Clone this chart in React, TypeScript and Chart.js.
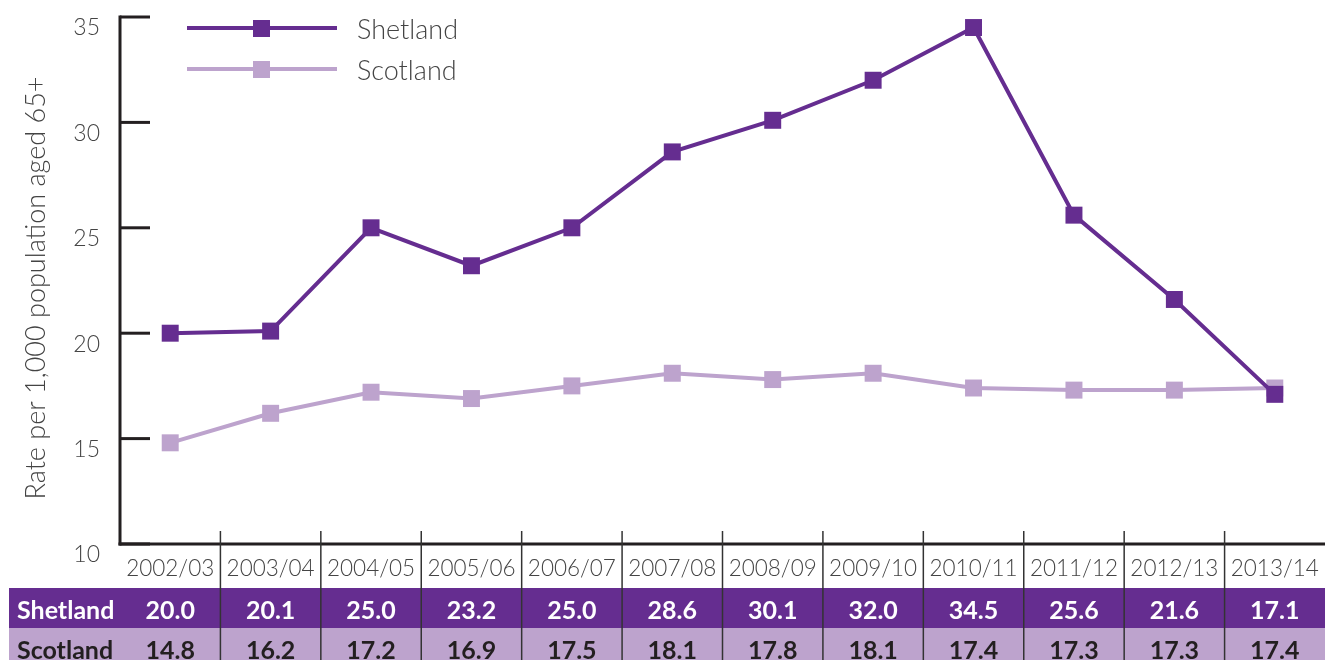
import React, { useEffect, useRef } from 'react';
import { Chart, registerables } from 'chart.js';

Chart.register(...registerables);

const categories = ['2002/03', '2003/04', '2004/05', '2005/06', '2006/07', '2007/08', '2008/09', '2009/10', '2010/11', '2011/12', '2012/13', '2013/14'];
const shetlandValues = [20.0, 20.1, 25.0, 23.2, 25.0, 28.6, 30.1, 32.0, 34.5, 25.6, 21.6, 17.1];
const scotlandValues = [14.8, 16.2, 17.2, 16.9, 17.5, 18.1, 17.8, 18.1, 17.4, 17.3, 17.3, 17.4];
const seriesNames = ['Shetland', 'Scotland'];
const yTickValues = [10, 15, 20, 25, 30, 35];
const yTitle = 'Rate per 1,000 population aged 65+';

const DARK = '#652D90';
const LIGHT = '#BDA3CD';
const AXIS = '#231f20';
const TEXT = '#444444';
const FONT = 'Lato, "Open Sans", sans-serif';

const customPlugin = {
  id: 'custom',
  beforeDatasetsDraw(chart: any) {
    const ctx = chart.ctx;
    const y = chart.scales.y;
    const area = chart.chartArea;
    ctx.save();
    ctx.strokeStyle = AXIS;
    ctx.lineWidth = 3;
    ctx.lineCap = 'butt';
    ctx.beginPath();
    ctx.moveTo(area.left, y.getPixelForValue(35) - 1.5);
    ctx.lineTo(area.left, area.bottom + 1.5);
    ctx.stroke();
    ctx.beginPath();
    ctx.moveTo(area.left - 1.5, area.bottom);
    ctx.lineTo(area.right, area.bottom);
    ctx.stroke();
    for (const v of yTickValues) {
      const py = y.getPixelForValue(v);
      ctx.beginPath();
      ctx.moveTo(area.left, py);
      ctx.lineTo(area.left + 30, py);
      ctx.stroke();
    }
    ctx.restore();
  },
  afterDraw(chart: any) {
    const ctx = chart.ctx;
    const x = chart.scales.x;
    const area = chart.chartArea;
    const H = chart.height;
    ctx.save();
    const rows = [
      { name: seriesNames[0], values: shetlandValues, bg: DARK, fg: '#ffffff', top: 588 },
      { name: seriesNames[1], values: scotlandValues, bg: LIGHT, fg: AXIS, top: 628 },
    ];
    for (const r of rows) {
      ctx.fillStyle = r.bg;
      ctx.fillRect(9, r.top, chart.width - 9, 40);
      ctx.fillStyle = r.fg;
      ctx.font = `bold 25px ${FONT}`;
      ctx.textBaseline = 'middle';
      ctx.textAlign = 'left';
      ctx.fillText(r.name, 17, r.top + 23);
      ctx.textAlign = 'center';
      r.values.forEach((v, i) => {
        ctx.fillText(v.toFixed(1), x.getPixelForValue(i), r.top + 23);
      });
    }
    ctx.strokeStyle = '#333333';
    ctx.lineWidth = 1.5;
    for (let i = 0; i < categories.length - 1; i++) {
      const px = (x.getPixelForValue(i) + x.getPixelForValue(i + 1)) / 2;
      ctx.beginPath();
      ctx.moveTo(px, area.bottom - 13);
      ctx.lineTo(px, H);
      ctx.stroke();
    }
    ctx.save();
    ctx.translate(36, 288);
    ctx.rotate(-Math.PI / 2);
    ctx.fillStyle = TEXT;
    ctx.font = `300 27px ${FONT}`;
    ctx.textAlign = 'center';
    ctx.textBaseline = 'middle';
    ctx.fillText(yTitle, 0, 0);
    ctx.restore();
    const legend = [
      { name: seriesNames[0], color: DARK, y: 28 },
      { name: seriesNames[1], color: LIGHT, y: 69 },
    ];
    for (const l of legend) {
      ctx.strokeStyle = l.color;
      ctx.lineWidth = 4;
      ctx.beginPath();
      ctx.moveTo(187, l.y);
      ctx.lineTo(337, l.y);
      ctx.stroke();
      ctx.fillStyle = l.color;
      ctx.fillRect(253, l.y - 8, 17, 17);
      ctx.fillStyle = TEXT;
      ctx.font = `300 27px ${FONT}`;
      ctx.textAlign = 'left';
      ctx.textBaseline = 'middle';
      ctx.fillText(l.name, 357, l.y + 2);
    }
    ctx.restore();
  },
};

export default function App() {
  const ref = useRef<HTMLCanvasElement>(null);
  useEffect(() => {
    if (!ref.current) return;
    const chart = new Chart(ref.current, {
      type: 'line',
      data: {
        labels: categories,
        datasets: [
          {
            label: seriesNames[0],
            data: shetlandValues,
            borderColor: DARK,
            backgroundColor: DARK,
            borderWidth: 4,
            pointStyle: 'rect',
            pointRadius: 12,
            pointBorderWidth: 0,
            tension: 0,
          },
          {
            label: seriesNames[1],
            data: scotlandValues,
            borderColor: LIGHT,
            backgroundColor: LIGHT,
            borderWidth: 4,
            pointStyle: 'rect',
            pointRadius: 12,
            pointBorderWidth: 0,
            tension: 0,
          },
        ],
      },
      options: {
        animation: false,
        responsive: false,
        layout: { autoPadding: false, padding: { top: 17, left: 0, right: 0, bottom: 0 } },
        plugins: { legend: { display: false }, tooltip: { enabled: false } },
        scales: {
          x: {
            type: 'category',
            offset: true,
            grid: { display: false, drawTicks: false },
            border: { display: false },
            ticks: {
              color: TEXT,
              font: { family: FONT, size: 22.5, weight: '300' },
              padding: 11,
              maxRotation: 0,
              autoSkip: false,
            },
            afterFit(scale: any) {
              scale.height = 116;
              scale.paddingLeft = 0;
              scale.paddingRight = 0;
            },
          },
          y: {
            min: 10,
            max: 35,
            grid: { display: false, drawTicks: false },
            border: { display: false },
            afterBuildTicks(scale: any) {
              scale.ticks = yTickValues.map((v) => ({ value: v }));
            },
            ticks: {
              color: TEXT,
              font: { family: FONT, size: 23, weight: '300' },
              padding: 20,
              labelOffset: 11,
            },
            afterFit(scale: any) {
              scale.width = 120;
              scale.paddingTop = 0;
              scale.paddingBottom = 0;
            },
          },
        },
      },
      plugins: [customPlugin],
    });
    return () => chart.destroy();
  }, []);
  return (
    <div style={{ position: 'absolute', left: 0, top: 0, width: 1325, height: 660, background: '#fff' }}>
      <canvas ref={ref} width={1325} height={660} style={{ width: 1325, height: 660, display: 'block' }} />
    </div>
  );
}
